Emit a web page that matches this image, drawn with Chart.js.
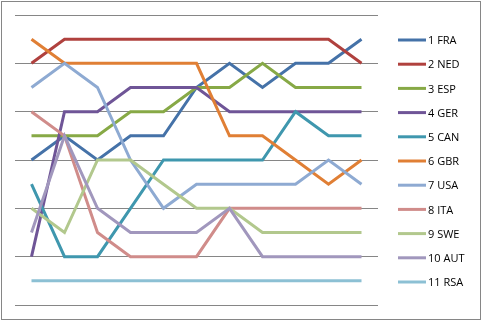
<!DOCTYPE html>
<html>
<head>
<meta charset="utf-8">
<script src="https://cdn.jsdelivr.net/npm/chart.js@4"></script>
<style>
  html, body { margin: 0; padding: 0; background: #fff; }
  #wrap { width: 483px; height: 322px; }
</style>
</head>
<body>
<div id="wrap"><canvas id="rankChart" width="483" height="322"></canvas></div>
<script>
// race positions, one value per round
rounds = ['1', '2', '3', '4', '5', '6', '7', '8', '9', '10', '11']
teams = ['1 FRA', '2 NED', '3 ESP', '4 GER', '5 CAN', '6 GBR', '7 USA', '8 ITA', '9 SWE', '10 AUT', '11 RSA']
fra = [6, 5, 6, 5, 5, 3, 2, 3, 2, 2, 1]
ned = [2, 1, 1, 1, 1, 1, 1, 1, 1, 1, 2]
esp = [5, 5, 5, 4, 4, 3, 3, 2, 3, 3, 3]
ger = [10, 4, 4, 3, 3, 3, 4, 4, 4, 4, 4]
can = [7, 10, 10, 8, 6, 6, 6, 6, 4, 5, 5]
gbr = [1, 2, 2, 2, 2, 2, 5, 5, 6, 7, 6]
usa = [3, 2, 3, 6, 8, 7, 7, 7, 7, 6, 7]
ita = [4, 5, 9, 10, 10, 10, 8, 8, 8, 8, 8]
swe = [8, 9, 6, 6, 7, 8, 8, 9, 9, 9, 9]
aut = [9, 5, 8, 9, 9, 9, 8, 10, 10, 10, 10]
rsa = [11, 11, 11, 11, 11, 11, 11, 11, 11, 11, 11]
colors = ['#4572a8', '#b0413e', '#87a946', '#6f5597', '#3f97ae', '#e07f35', '#8eaad2', '#d08c8a', '#b2c88d', '#a197bd', '#8cc0d4']

seriesValues = [fra, ned, esp, ger, can, gbr, usa, ita, swe, aut, rsa]

datasets = teams.map(function(name, i){
  return {
    label: name,
    data: seriesValues[i],
    borderColor: colors[i],
    backgroundColor: colors[i],
    borderWidth: 3,
    pointRadius: 0,
    tension: 0,
    fill: false,
    order: -i
  }
})

// legend + frame drawn by hand so it sits where the original has it
sideLegend = {
  id: 'sideLegend',
  afterDraw: function(chart){
    ctx = chart.ctx
    ctx.save()
    ctx.strokeStyle = '#868686'
    ctx.lineWidth = 1
    ctx.strokeRect(1.5, 1.5, 479, 318)
    ctx.font = '11px "Open Sans", "Liberation Sans", sans-serif'
    ctx.textBaseline = 'middle'
    chart.data.datasets.forEach(function(ds, i){
      y = 40 + i * 24.2
      ctx.strokeStyle = ds.borderColor
      ctx.lineWidth = 3
      ctx.beginPath()
      ctx.moveTo(398, y)
      ctx.lineTo(426, y)
      ctx.stroke()
      ctx.fillStyle = '#000'
      ctx.fillText(ds.label, 428, y + 1)
    })
    ctx.restore()
  }
}

rankctx = document.getElementById('rankChart').getContext('2d')
rankChart = new Chart(rankctx, {
  type: 'line',
  data: { labels: rounds, datasets: datasets },
  options: {
    responsive: false,
    animation: false,
    layout: { padding: { left: 15, top: 15, right: 105, bottom: 17 } },
    plugins: { legend: { display: false }, tooltip: { enabled: false } },
    scales: {
      x: {
        offset: true,
        ticks: { display: false },
        grid: { display: false, drawTicks: false },
        border: { display: false }
      },
      y: {
        min: 0,
        max: 12,
        reverse: true,
        ticks: { display: false, stepSize: 2 },
        grid: { color: '#868686', lineWidth: 1, drawTicks: false },
        border: { display: false }
      }
    }
  },
  plugins: [sideLegend]
})
</script>
</body>
</html>
